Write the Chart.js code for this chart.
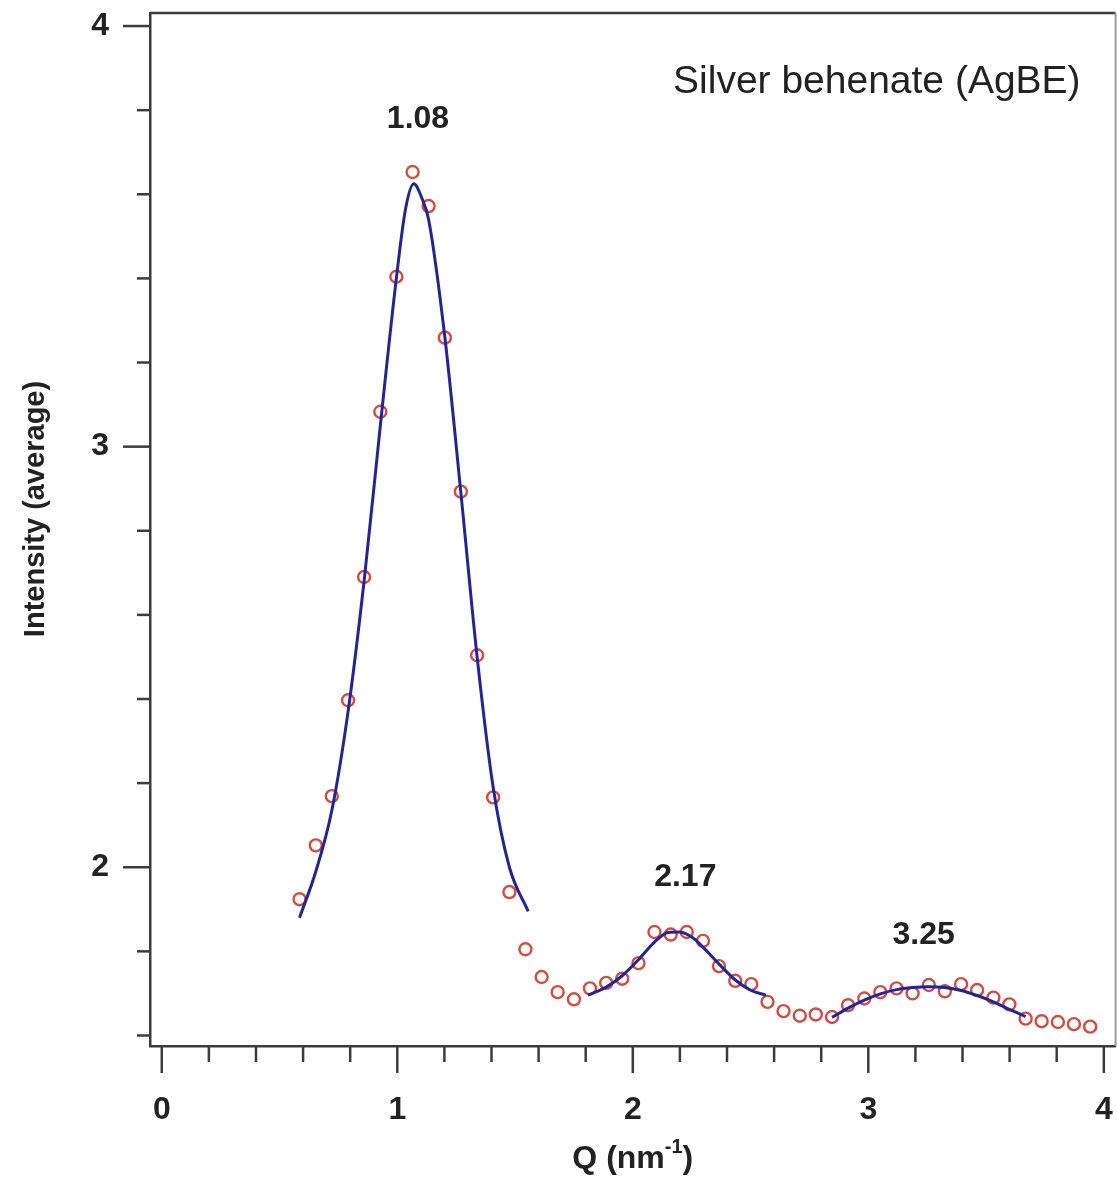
<!DOCTYPE html>
<html>
<head>
<meta charset="utf-8">
<script src="https://cdn.jsdelivr.net/npm/chart.js@4.4.1/dist/chart.umd.min.js"></script>
<style>
  body { margin: 0; background: #ffffff; overflow: hidden; }
  #wrap { width: 1124px; height: 1179px; position: relative; }
  canvas { display: block; }
</style>
</head>
<body>
<div id="wrap"><canvas id="saxsChart"></canvas></div>
<script>
// Measured points (Q in nm^-1, averaged intensity)
const qData = [0.585, 0.654, 0.722, 0.791, 0.859, 0.928, 0.996, 1.065, 1.133, 1.202,
    1.270, 1.339, 1.407, 1.476, 1.544, 1.613, 1.681, 1.750, 1.818, 1.887,
    1.955, 2.024, 2.092, 2.161, 2.229, 2.298, 2.366, 2.435, 2.503, 2.572,
    2.640, 2.709, 2.777, 2.846, 2.914, 2.983, 3.051, 3.120, 3.188, 3.257,
    3.325, 3.394, 3.462, 3.531, 3.599, 3.668, 3.736, 3.805, 3.873, 3.942];
const intensityData = [1.924, 2.052, 2.169, 2.397, 2.690, 3.083, 3.404, 3.653, 3.572, 3.259,
    2.893, 2.504, 2.166, 1.941, 1.805, 1.739, 1.703, 1.686, 1.712, 1.725,
    1.735, 1.772, 1.846, 1.840, 1.846, 1.825, 1.765, 1.730, 1.722, 1.680,
    1.658, 1.647, 1.650, 1.644, 1.672, 1.688, 1.703, 1.712, 1.700, 1.720,
    1.705, 1.722, 1.708, 1.690, 1.674, 1.640, 1.634, 1.632, 1.627, 1.621];

// Fitted peaks
const fit1Q = [0.585, 0.654, 0.722, 0.791, 0.859, 0.928, 0.996, 1.035, 1.070, 1.105, 1.133, 1.202, 1.270, 1.339, 1.407, 1.476, 1.556];
const fit1I = [1.880, 1.990, 2.135, 2.370, 2.680, 3.050, 3.400, 3.565, 3.625, 3.590, 3.540, 3.260, 2.890, 2.500, 2.190, 2.000, 1.895];
const fit2Q = [1.810, 1.887, 1.955, 2.024, 2.092, 2.150, 2.200, 2.260, 2.298, 2.366, 2.435, 2.503, 2.565];
const fit2I = [1.696, 1.715, 1.742, 1.780, 1.822, 1.845, 1.846, 1.830, 1.810, 1.770, 1.732, 1.707, 1.696];
const fit3Q = [2.846, 2.914, 2.983, 3.051, 3.120, 3.188, 3.257, 3.325, 3.394, 3.462, 3.531, 3.599, 3.668];
const fit3I = [1.643, 1.665, 1.684, 1.699, 1.709, 1.714, 1.716, 1.714, 1.707, 1.695, 1.680, 1.662, 1.645];

// Axes
const xMajorTicks = [0, 1, 2, 3, 4];
const xMinorTicks = [0.2, 0.4, 0.6, 0.8, 1.2, 1.4, 1.6, 1.8, 2.2, 2.4, 2.6, 2.8, 3.2, 3.4, 3.6, 3.8];
const yMajorTicks = [2, 3, 4];
const yMinorTicks = [1.6, 1.8, 2.2, 2.4, 2.6, 2.8, 3.2, 3.4, 3.6, 3.8];

// Peak position labels
const peakLabels = ['1.08', '2.17', '3.25'];
const peakLabelQ = [1.088, 2.223, 3.235];
const peakLabelI = [3.779, 1.976, 1.838];

const FONT = '"Liberation Sans", Arial, sans-serif';

function toPoints(xs, ys) {
    return xs.map((q, i) => ({ x: q, y: ys[i] }));
}

// frame, tick marks and all free text
const decorations = {
    id: 'decorations',
    afterDraw(chart) {
        const ctx = chart.ctx;
        const a = chart.chartArea;
        const x = chart.scales.x;
        const y = chart.scales.y;
        ctx.save();

        // top and right frame
        ctx.lineWidth = 2.5;
        ctx.strokeStyle = '#3c3c3c';
        ctx.beginPath();
        ctx.moveTo(a.left, a.top);
        ctx.lineTo(a.right, a.top);
        ctx.stroke();
        ctx.strokeStyle = '#9a9a9a';
        ctx.lineWidth = 2;
        ctx.beginPath();
        ctx.moveTo(a.right, a.top);
        ctx.lineTo(a.right, a.bottom);
        ctx.stroke();

        // tick marks (outside)
        ctx.strokeStyle = '#3c3c3c';
        ctx.lineWidth = 2.5;
        const tick = (x1, y1, x2, y2) => {
            ctx.beginPath();
            ctx.moveTo(x1, y1);
            ctx.lineTo(x2, y2);
            ctx.stroke();
        };
        xMajorTicks.forEach(v => { const p = x.getPixelForValue(v); tick(p, a.bottom, p, a.bottom + 27); });
        xMinorTicks.forEach(v => { const p = x.getPixelForValue(v); tick(p, a.bottom, p, a.bottom + 16); });
        yMajorTicks.forEach(v => { const p = y.getPixelForValue(v); tick(a.left, p, a.left - 27, p); });
        yMinorTicks.forEach(v => { const p = y.getPixelForValue(v); tick(a.left, p, a.left - 13, p); });

        // peak labels
        ctx.fillStyle = '#222222';
        ctx.textAlign = 'center';
        ctx.textBaseline = 'middle';
        ctx.font = 'bold 32px ' + FONT;
        peakLabels.forEach((t, i) => {
            ctx.fillText(t, x.getPixelForValue(peakLabelQ[i]), y.getPixelForValue(peakLabelI[i]));
        });

        // sample name
        ctx.textAlign = 'right';
        ctx.font = '39px ' + FONT;
        ctx.fillText('Silver behenate (AgBE)', a.right - 35, a.top + 69);

        // y title
        ctx.save();
        ctx.translate(36, 509);
        ctx.rotate(-Math.PI / 2);
        ctx.textAlign = 'center';
        ctx.font = 'bold 29px ' + FONT;
        ctx.fillText('Intensity (average)', 0, 0);
        ctx.restore();

        // x title with superscript
        ctx.textBaseline = 'alphabetic';
        ctx.textAlign = 'left';
        const main = 'bold 32px ' + FONT;
        const sup = 'bold 20px ' + FONT;
        ctx.font = main;
        const w1 = ctx.measureText('Q (nm').width;
        const w3 = ctx.measureText(')').width;
        ctx.font = sup;
        const w2 = ctx.measureText('-1').width;
        let cx = (a.left + a.right) / 2 - (w1 + w2 + w3) / 2;
        const base = 1168;
        ctx.font = main;
        ctx.fillText('Q (nm', cx, base);
        cx += w1;
        ctx.font = sup;
        ctx.fillText('-1', cx, base - 15);
        cx += w2;
        ctx.font = main;
        ctx.fillText(')', cx, base);

        ctx.restore();
    }
};

new Chart(document.getElementById('saxsChart'), {
    type: 'scatter',
    data: {
        datasets: [
            {
                label: 'fit 1',
                data: toPoints(fit1Q, fit1I),
                showLine: true,
                borderColor: '#23239c',
                borderWidth: 3,
                pointRadius: 0,
                cubicInterpolationMode: 'monotone',
                order: 0
            },
            {
                label: 'fit 2',
                data: toPoints(fit2Q, fit2I),
                showLine: true,
                borderColor: '#23239c',
                borderWidth: 3,
                pointRadius: 0,
                cubicInterpolationMode: 'monotone',
                order: 0
            },
            {
                label: 'fit 3',
                data: toPoints(fit3Q, fit3I),
                showLine: true,
                borderColor: '#23239c',
                borderWidth: 3,
                pointRadius: 0,
                cubicInterpolationMode: 'monotone',
                order: 0
            },
            {
                label: 'AgBE',
                data: toPoints(qData, intensityData),
                showLine: false,
                pointStyle: 'circle',
                pointRadius: 6,
                pointBorderWidth: 2.4,
                pointBorderColor: '#d64b40',
                pointBackgroundColor: 'rgba(255,255,255,0)',
                order: 1
            }
        ]
    },
    options: {
        responsive: true,
        maintainAspectRatio: false,
        animation: false,
        layout: {
            padding: { top: 13, right: 2, left: 0, bottom: 0 }
        },
        plugins: {
            legend: { display: false },
            tooltip: { enabled: false }
        },
        scales: {
            x: {
                type: 'linear',
                min: -0.05,
                max: 4.05,
                afterBuildTicks: (scale) => {
                    scale.ticks = xMajorTicks.map(v => ({ value: v }));
                },
                afterFit: (scale) => {
                    scale.height = 133;
                    scale.paddingLeft = 0;
                    scale.paddingRight = 0;
                },
                grid: { display: false, drawTicks: false },
                border: { display: true, color: '#3c3c3c', width: 2.5 },
                ticks: {
                    padding: 45,
                    color: '#222222',
                    font: { family: FONT, size: 32, weight: 'bold' },
                    maxRotation: 0,
                    callback: (v) => String(v)
                }
            },
            y: {
                type: 'linear',
                min: 1.575,
                max: 4.031,
                afterBuildTicks: (scale) => {
                    scale.ticks = yMajorTicks.map(v => ({ value: v }));
                },
                afterFit: (scale) => {
                    scale.width = 150;
                    scale.paddingTop = 0;
                    scale.paddingBottom = 0;
                },
                grid: { display: false, drawTicks: false },
                border: { display: true, color: '#3c3c3c', width: 2.5 },
                ticks: {
                    padding: 41,
                    color: '#222222',
                    font: { family: FONT, size: 32, weight: 'bold' },
                    callback: (v) => String(v)
                }
            }
        }
    },
    plugins: [decorations]
});
</script>
</body>
</html>
